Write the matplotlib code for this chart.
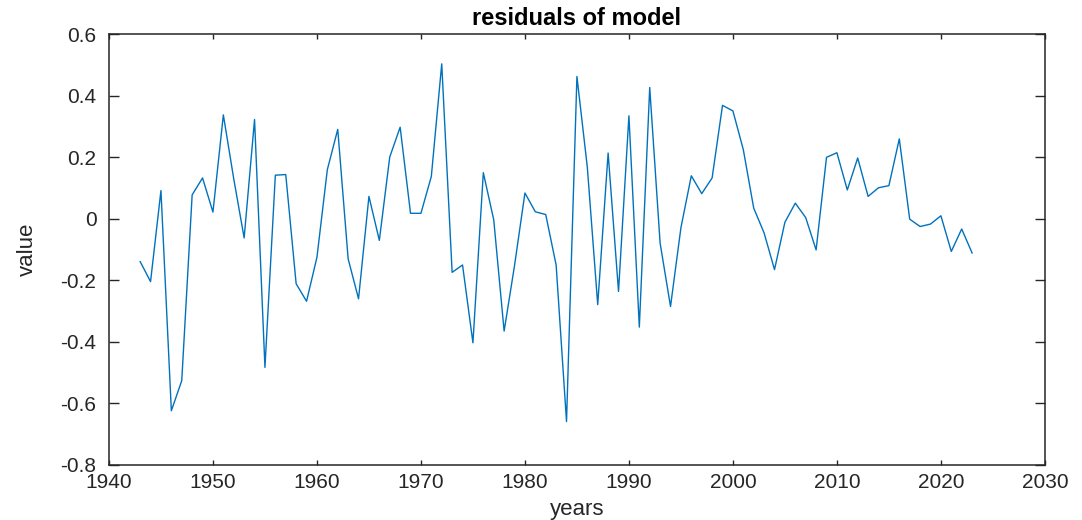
import matplotlib
matplotlib.use("Agg")
import matplotlib.pyplot as plt
import numpy as np

# residuals, one value per year 1943-2023
years = list(range(1943, 2024))
residuals = [
    -0.139, -0.204, 0.092, -0.624, -0.526, 0.078, 0.133, 0.022, 0.338, 0.13,
    -0.062, 0.323, -0.483, 0.142, 0.144, -0.211, -0.268, -0.125, 0.160, 0.291,
    -0.130, -0.260, 0.073, -0.070, 0.201, 0.298, 0.018, 0.018, 0.138, 0.504,
    -0.174, -0.150, -0.403, 0.150, -0.003, -0.365, -0.152, 0.084, 0.023, 0.014,
    -0.150, -0.659, 0.463, 0.168, -0.279, 0.214, -0.236, 0.335, -0.352, 0.427,
    -0.079, -0.285, -0.029, 0.140, 0.082, 0.133, 0.369, 0.351, 0.225, 0.035,
    -0.046, -0.165, -0.011, 0.051, 0.004, -0.101, 0.200, 0.215, 0.094, 0.198,
    0.073, 0.101, 0.108, 0.260, -0.001, -0.025, -0.017, 0.010, -0.106, -0.033,
    -0.111,
]
x_ticks = list(range(1940, 2031, 10))
y_ticks = [-0.8, -0.6, -0.4, -0.2, 0, 0.2, 0.4, 0.6]
y_tick_labels = ["-0.8", "-0.6", "-0.4", "-0.2", "0", "0.2", "0.4", "0.6"]

plt.rcParams["font.family"] = ["Liberation Sans", "DejaVu Sans"]
plt.rcParams["axes.unicode_minus"] = False

dark = "#262626"
fig = plt.figure(figsize=(10.82, 5.2), dpi=100)
ax = fig.add_axes([0.1007, 0.106, 0.865, 0.828])

ax.plot(years, residuals, color="#0072BD", linewidth=1.0)

ax.set_xlim(1940, 2030)
ax.set_ylim(-0.8, 0.6)
ax.set_xticks(x_ticks)
ax.set_yticks(y_ticks)
ax.set_yticklabels(y_tick_labels)

for side in ax.spines.values():
    side.set_linewidth(1.1)
    side.set_color(dark)
ax.tick_params(axis="both", direction="in", top=True, right=True,
               colors=dark, labelsize=15, width=1.0)
ax.tick_params(axis="x", length=3.6, pad=6)
ax.tick_params(axis="y", length=7.5, pad=9)

ax.set_title("residuals of model", fontsize=17, fontweight="bold",
             color="black", pad=7)
ax.set_xlabel("years", fontsize=16, color=dark, labelpad=5)
ax.set_ylabel("value", fontsize=16, color=dark, labelpad=16)

fig.savefig("out.png", dpi=100)
